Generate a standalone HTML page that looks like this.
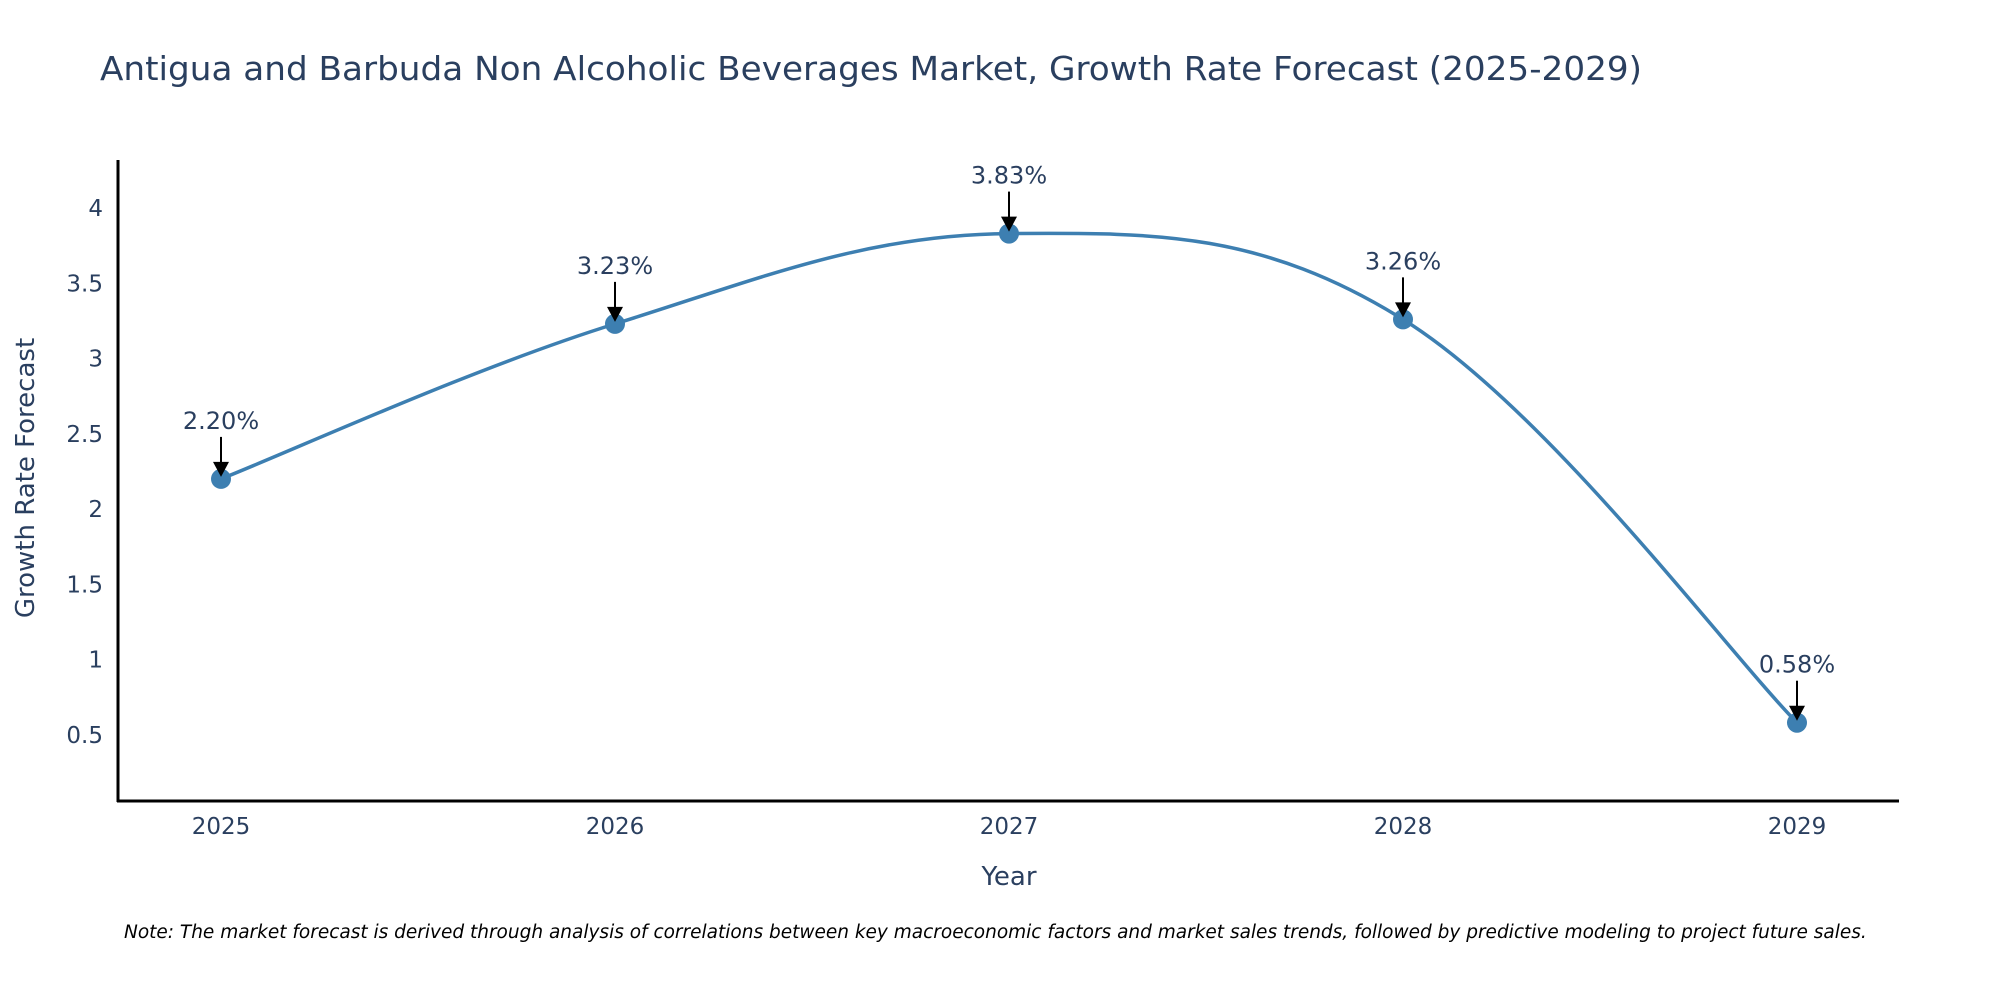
<!DOCTYPE html>
<html><head><meta charset="utf-8"><style>
body{margin:0;background:#fff}
svg{display:block;font-family:"DejaVu Sans","Liberation Sans",sans-serif}
</style></head><body>
<svg id="chart" width="2000" height="1000" viewBox="0 0 2000 1000">
<text x="100" y="80" font-size="33" fill="#2a3f5f" textLength="1542" lengthAdjust="spacingAndGlyphs">Antigua and Barbuda Non Alcoholic Beverages Market, Growth Rate Forecast (2025-2029)</text>
<g id="yticks"></g>
<g id="xticks"></g>
<line x1="118" y1="160" x2="118" y2="802" stroke="#000" stroke-width="3"/>
<line x1="117" y1="801" x2="1899" y2="801" stroke="#000" stroke-width="3"/>
<g id="plot"></g>
<text x="1009" y="885" font-size="26" fill="#2a3f5f" text-anchor="middle">Year</text>
<text transform="translate(34,478) rotate(-90)" font-size="26" fill="#2a3f5f" text-anchor="middle">Growth Rate Forecast</text>
<text x="124" y="938" font-size="18.5" font-style="italic" fill="#000">Note: The market forecast is derived through analysis of correlations between key macroeconomic factors and market sales trends, followed by predictive modeling to project future sales.</text>
</svg>
<script>
const years=[2025,2026,2027,2028,2029];
const rates=[2.20,3.23,3.83,3.26,0.58];
const labels=["2.20%","3.23%","3.83%","3.26%","0.58%"];
const yTicks=[0.5,1,1.5,2,2.5,3,3.5,4];
const NS="http://www.w3.org/2000/svg";
function xs(v){return 221+(v-2025)*394;}
function ys(v){return 810-v*150.5;}
function mk(tag,attrs,parent){const e=document.createElementNS(NS,tag);for(const k in attrs)e.setAttribute(k,attrs[k]);parent.appendChild(e);return e;}
const yt=document.getElementById('yticks'),xt=document.getElementById('xticks'),plot=document.getElementById('plot');
yTicks.forEach(t=>{const e=mk('text',{x:103,y:ys(t)+8,'font-size':23,fill:'#2a3f5f','text-anchor':'end'},yt);e.textContent=String(t);

});
years.forEach(y=>{const e=mk('text',{x:xs(y),y:834,'font-size':23,fill:'#2a3f5f','text-anchor':'middle'},xt);e.textContent=String(y);

});
const P=years.map((y,i)=>[xs(y),ys(rates[i])]);
let d=`M${P[0][0]},${P[0][1]}`;
for(let i=0;i<P.length-1;i++){const p0=P[i-1]||P[i],p1=P[i],p2=P[i+1],p3=P[i+2]||P[i+1];const k=1/5.5;
d+=` C${p1[0]+(p2[0]-p0[0])*k},${p1[1]+(p2[1]-p0[1])*k} ${p2[0]-(p3[0]-p1[0])*k},${p2[1]-(p3[1]-p1[1])*k} ${p2[0]},${p2[1]}`;}
const line=mk('path',{d:d,fill:'none',stroke:'#3d7fb1','stroke-width':3.5},plot);


P.forEach((p,i)=>{
const c=mk('circle',{cx:p[0],cy:p[1],r:10,fill:'#3d7fb1'},plot);


const a=mk('line',{x1:p[0],y1:p[1]-42,x2:p[0],y2:p[1]-12,stroke:'#000','stroke-width':2},plot);


const h=mk('path',{d:`M${p[0]-8},${p[1]-17} L${p[0]+8},${p[1]-17} L${p[0]},${p[1]-2} Z`,fill:'#000'},plot);


const t=mk('text',{x:p[0],y:p[1]-50,'font-size':24,fill:'#2a3f5f','text-anchor':'middle'},plot);t.textContent=labels[i];


});
</script>
</body></html>
